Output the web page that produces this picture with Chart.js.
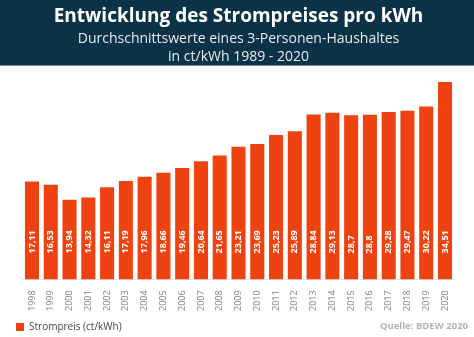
<!DOCTYPE html>
<html>
<head>
<meta charset="utf-8">
<script src="https://cdn.jsdelivr.net/npm/chart.js@4/dist/chart.umd.min.js"></script>
<style>
  html, body { margin: 0; padding: 0; background: #fff; }
  #wrap { width: 474px; height: 337px; position: relative; }
</style>
</head>
<body>
<div id="wrap"><canvas id="chart"></canvas></div>
<script>
// ── Daten: Strompreis ct/kWh (BDEW) ──────────────────────────────
const YEARS = [
  "1998","1999","2000","2001","2002","2003","2004","2005","2006","2007","2008",
  "2009","2010","2011","2012","2013","2014","2015","2016","2017","2018","2019","2020"
]
const PRICES = [
  17.11, 16.53, 13.94, 14.32, 16.11, 17.19, 17.96, 18.66, 19.46, 20.64, 21.65,
  23.21, 23.69, 25.23, 25.89, 28.84, 29.13, 28.7, 28.8, 29.28, 29.47, 30.22, 34.51
]
const TITLE = "Entwicklung des Strompreises pro kWh"
const SUBTITLE = ["Durchschnittswerte eines 3-Personen-Haushaltes", "in ct/kWh 1989 - 2020"]
const SERIES_NAME = "Strompreis (ct/kWh)"
const SOURCE = "Quelle: BDEW 2020"

const orange = "#ee4310"
const navy   = "#0c3248"
const FONT   = "'Open Sans', sans-serif"

// Kopfband hinter Titel
const headerBand = {
  id: "headerBand",
  beforeDraw(chart) {
    const ctx = chart.ctx
    ctx.save()
    ctx.fillStyle = navy
    ctx.fillRect(0, 0, chart.width, 65)
    ctx.fillStyle = "#6d8c9c"
    ctx.fillRect(0, 65, chart.width, 1)
    ctx.restore()
  }
}

// Legende nach links unten schieben (sitzt sonst an der Padding-Kante)
const legendShift = {
  id: "legendShift",
  afterUpdate(chart) {
    if (!chart.legend) return
    chart.legend.left = 13
    chart.legend.top += 5
  }
}

// Werte senkrecht in die Balken schreiben
const barValues = {
  id: "barValues",
  afterDatasetsDraw(chart) {
    const ctx = chart.ctx
    const meta = chart.getDatasetMeta(0)
    const base = chart.scales.y.getPixelForValue(0)
    ctx.save()
    ctx.fillStyle = "#fff"
    ctx.font = "bold 9px " + FONT
    ctx.textAlign = "left"
    ctx.textBaseline = "middle"
    meta.data.forEach((bar, i) => {
      ctx.save()
      ctx.translate(bar.x, base - 26)
      ctx.rotate(-Math.PI / 2)
      ctx.fillText(String(PRICES[i]).replace(".", ","), 0, 0)
      ctx.restore()
    })
    ctx.restore()
  }
}

// Quellenangabe rechts unten
const sourceNote = {
  id: "sourceNote",
  afterDraw(chart) {
    const ctx = chart.ctx
    ctx.save()
    ctx.fillStyle = "#b2b2b2"
    ctx.font = "bold 9.5px " + FONT
    ctx.textAlign = "right"
    ctx.textBaseline = "middle"
    ctx.fillText(SOURCE, 468, 326)
    ctx.restore()
  }
}

new Chart(document.getElementById("chart"), {
  type: "bar",
  data: {
    labels: YEARS,
    datasets: [{
      label: SERIES_NAME,
      data: PRICES,
      backgroundColor: orange,
      borderWidth: 0,
      barPercentage: 0.75,
      categoryPercentage: 1
    }]
  },
  options: {
    responsive: true,
    maintainAspectRatio: false,
    animation: false,
    layout: { padding: { left: 22.6, right: 19.6, bottom: 0 } },
    plugins: {
      title: {
        display: true,
        text: TITLE,
        color: "#fff",
        font: { family: FONT, size: 19, weight: "bold", lineHeight: 1.2 },
        padding: { top: 5, bottom: 2 }
      },
      subtitle: {
        display: true,
        text: SUBTITLE,
        color: "#e3ebf0",
        font: { family: FONT, size: 14, lineHeight: 1.3 },
        padding: { top: 0, bottom: 13 }
      },
      legend: {
        position: "bottom",
        align: "start",
        labels: {
          color: "#444",
          font: { family: FONT, size: 10 },
          boxWidth: 8,
          boxHeight: 8,
          padding: 3
        }
      },
      tooltip: { enabled: false }
    },
    scales: {
      x: {
        grid: { display: false },
        border: { color: "#e4e4e4" },
        ticks: {
          color: "#808080",
          font: { family: FONT, size: 9 },
          minRotation: 90,
          maxRotation: 90,
          padding: 3
        }
      },
      y: {
        display: false,
        min: 0,
        max: 35
      }
    }
  },
  plugins: [headerBand, legendShift, barValues, sourceNote]
})
</script>
</body>
</html>
